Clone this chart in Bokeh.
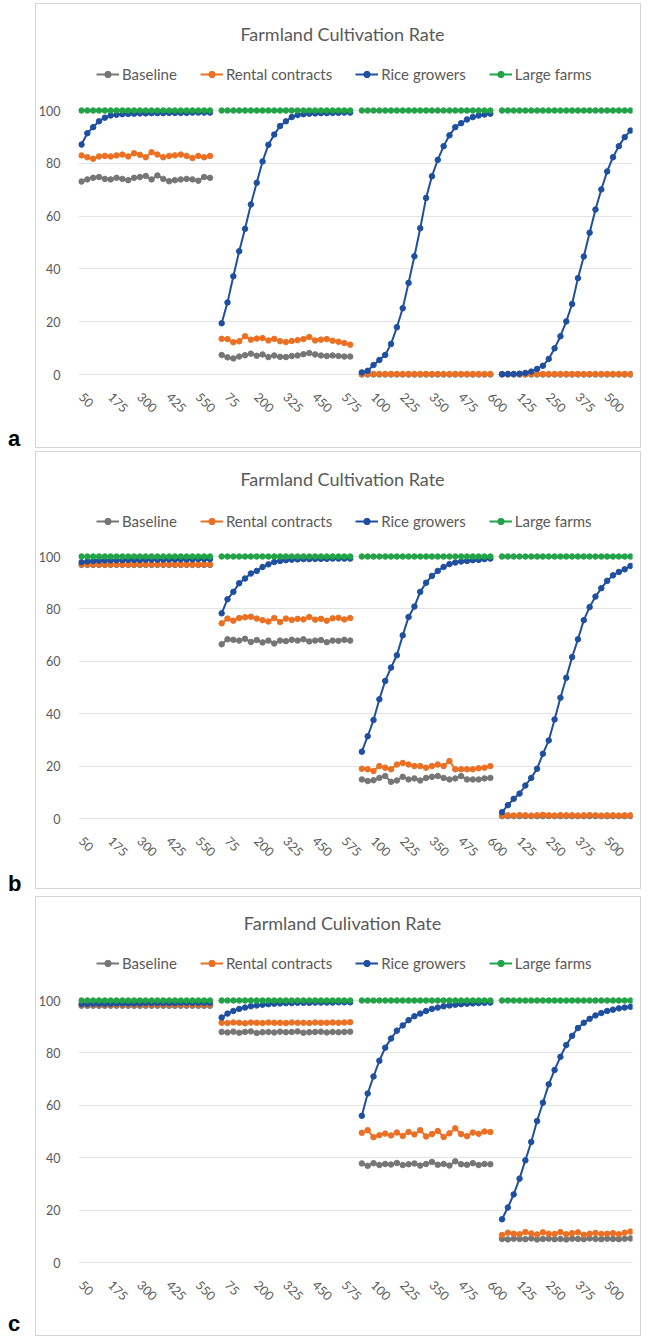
import math
from bokeh.plotting import figure
from bokeh.layouts import column, row
from bokeh.models import (Range1d, FixedTicker, Legend, LegendItem, Label,
                          Div)
from bokeh.embed import file_html
from bokeh.resources import INLINE

# Category axis: farm-size steps 25..600, repeated for four scenarios.
# The first step (25) of every scenario carries no value.
steps = [25, 50, 75, 100, 125, 150, 175, 200, 225, 250, 275, 300,
         325, 350, 375, 400, 425, 450, 475, 500, 525, 550, 575, 600]
n_scenarios = 4
series_names = ["Baseline", "Rental contracts", "Rice growers", "Large farms"]
y_ticks = [0, 20, 40, 60, 80, 100]

# ---------------- panel a ----------------
a_baseline = [
    [73.1, 73.9, 74.5, 74.8, 74.1, 73.9, 74.5, 74.1, 73.6, 74.5, 74.8, 75.2, 73.9, 75.4, 74.1, 73.2, 73.6, 73.9, 74.1, 73.9, 73.4, 74.8, 74.5],
    [7.4, 6.5, 6.1, 6.8, 7.3, 7.9, 7.1, 7.6, 6.6, 7.2, 6.7, 6.6, 7.0, 7.2, 7.7, 8.1, 7.6, 7.2, 7.0, 7.2, 7.0, 6.8, 6.8],
    [0.0, 0.0, 0.0, 0.0, 0.0, 0.0, 0.0, 0.0, 0.0, 0.0, 0.0, 0.0, 0.0, 0.0, 0.0, 0.0, 0.0, 0.0, 0.0, 0.0, 0.0, 0.0, 0.0],
    [0.0, 0.0, 0.0, 0.0, 0.0, 0.0, 0.0, 0.0, 0.0, 0.0, 0.0, 0.0, 0.0, 0.0, 0.0, 0.0, 0.0, 0.0, 0.0, 0.0, 0.0, 0.0, 0.0],
]
a_rental = [
    [83.0, 82.3, 81.7, 82.6, 82.8, 82.6, 83.0, 83.3, 82.6, 83.8, 83.2, 82.3, 84.2, 83.3, 82.3, 82.8, 83.0, 83.3, 82.8, 82.0, 82.8, 82.3, 82.8],
    [13.5, 13.4, 12.2, 12.6, 14.5, 13.2, 13.6, 13.8, 12.9, 13.5, 12.6, 12.3, 12.7, 13.0, 13.4, 14.2, 12.9, 13.2, 13.4, 12.8, 12.4, 11.9, 11.3],
    [0.2, 0.2, 0.2, 0.2, 0.2, 0.2, 0.2, 0.2, 0.2, 0.2, 0.2, 0.2, 0.2, 0.2, 0.2, 0.2, 0.2, 0.2, 0.2, 0.2, 0.2, 0.2, 0.2],
    [0.2, 0.2, 0.2, 0.2, 0.2, 0.2, 0.2, 0.2, 0.2, 0.2, 0.2, 0.2, 0.2, 0.2, 0.2, 0.2, 0.2, 0.2, 0.2, 0.2, 0.2, 0.2, 0.2],
]
a_rice = [
    [87.1, 91.4, 93.7, 95.9, 97.3, 98.1, 98.4, 98.6, 98.7, 98.8, 98.9, 98.9, 99.0, 99.0, 99.0, 99.1, 99.1, 99.1, 99.1, 99.2, 99.2, 99.2, 99.2],
    [19.4, 27.3, 37.2, 46.7, 55.2, 64.4, 72.6, 80.7, 87.0, 90.9, 94.1, 95.9, 97.5, 98.3, 98.6, 98.8, 98.9, 99.0, 99.0, 99.1, 99.1, 99.2, 99.2],
    [0.8, 1.4, 3.6, 5.5, 7.4, 11.6, 17.9, 25.1, 34.7, 44.8, 55.4, 66.9, 75.1, 81.3, 86.5, 90.6, 93.7, 95.2, 96.6, 97.5, 98.1, 98.5, 98.8],
    [0.1, 0.2, 0.2, 0.3, 0.6, 1.1, 2.1, 3.3, 5.9, 9.9, 14.5, 20.1, 26.7, 36.5, 44.7, 53.7, 62.5, 70.1, 76.9, 82.3, 86.5, 89.9, 92.4],
]
a_large = [
    [100, 100, 100, 100, 100, 100, 100, 100, 100, 100, 100, 100, 100, 100, 100, 100, 100, 100, 100, 100, 100, 100, 100],
    [100, 100, 100, 100, 100, 100, 100, 100, 100, 100, 100, 100, 100, 100, 100, 100, 100, 100, 100, 100, 100, 100, 100],
    [100, 100, 100, 100, 100, 100, 100, 100, 100, 100, 100, 100, 100, 100, 100, 100, 100, 100, 100, 100, 100, 100, 100],
    [100, 100, 100, 100, 100, 100, 100, 100, 100, 100, 100, 100, 100, 100, 100, 100, 100, 100, 100, 100, 100, 100, 100],
]

# ---------------- panel b ----------------
b_baseline = [
    [96.8, 96.8, 96.8, 96.8, 96.8, 96.8, 96.8, 96.8, 96.8, 96.8, 96.8, 96.8, 96.8, 96.8, 96.8, 96.8, 96.8, 96.8, 96.8, 96.8, 96.8, 96.8, 96.8],
    [66.5, 68.4, 68.2, 67.9, 68.6, 67.4, 68.1, 67.2, 67.9, 66.8, 67.9, 67.7, 68.2, 67.9, 68.4, 67.6, 67.9, 68.1, 67.3, 67.9, 67.8, 68.2, 67.9],
    [14.9, 14.3, 14.6, 15.5, 16.2, 14.0, 14.5, 15.9, 14.9, 15.3, 14.5, 15.5, 15.9, 16.2, 15.5, 14.9, 15.3, 16.2, 14.9, 14.9, 14.9, 15.3, 15.5],
    [0.9, 0.9, 0.9, 0.9, 0.9, 0.9, 0.9, 0.9, 0.9, 0.9, 0.9, 0.9, 0.9, 0.9, 0.9, 0.9, 0.9, 0.9, 0.9, 0.9, 0.9, 0.9, 0.9],
]
b_rental = [
    [97.0, 97.0, 97.0, 97.0, 97.0, 97.0, 97.0, 97.0, 97.0, 97.0, 97.0, 97.0, 97.0, 97.0, 97.0, 97.0, 97.0, 97.0, 97.0, 97.0, 97.0, 97.0, 97.0],
    [74.5, 76.3, 75.5, 76.5, 76.8, 77.0, 76.3, 75.7, 75.2, 76.5, 75.0, 76.3, 75.8, 76.2, 76.0, 76.9, 75.9, 76.2, 75.5, 76.4, 76.6, 76.0, 76.5],
    [19.0, 18.8, 18.1, 20.0, 19.4, 18.8, 20.6, 21.2, 20.6, 20.0, 20.0, 19.4, 20.0, 20.6, 20.0, 21.9, 18.8, 18.8, 18.8, 18.8, 19.2, 19.4, 20.0],
    [1.1, 1.2, 1.1, 1.3, 1.2, 1.1, 1.2, 1.4, 1.2, 1.1, 1.3, 1.2, 1.2, 1.1, 1.2, 1.3, 1.2, 1.1, 1.2, 1.2, 1.1, 1.2, 1.2],
]
b_rice = [
    [97.8, 98.1, 98.3, 98.4, 98.5, 98.5, 98.6, 98.6, 98.7, 98.7, 98.7, 98.8, 98.8, 98.8, 98.8, 98.9, 98.9, 98.9, 98.9, 98.9, 99.0, 99.0, 99.0],
    [78.3, 83.7, 86.5, 89.8, 91.6, 93.5, 94.5, 96.0, 97.0, 97.9, 98.3, 98.6, 98.8, 98.9, 99.0, 99.0, 99.1, 99.1, 99.1, 99.2, 99.2, 99.2, 99.2],
    [25.5, 31.4, 37.6, 45.5, 52.5, 57.6, 62.3, 69.9, 76.9, 80.9, 86.5, 90.0, 92.6, 94.5, 96.0, 97.1, 97.7, 98.1, 98.3, 98.6, 98.7, 99.0, 99.2],
    [2.4, 5.1, 7.5, 9.5, 12.6, 15.5, 19.0, 24.7, 29.8, 37.8, 46.1, 53.7, 61.6, 68.4, 75.7, 80.7, 84.7, 87.9, 90.7, 92.8, 94.1, 95.1, 96.4],
]
b_large = a_large

# ---------------- panel c ----------------
c_baseline = [
    [98.0, 98.0, 98.0, 98.0, 98.0, 98.0, 98.0, 98.0, 98.0, 98.0, 98.0, 98.0, 98.0, 98.0, 98.0, 98.0, 98.0, 98.0, 98.0, 98.0, 98.0, 98.0, 98.0],
    [88.0, 87.8, 88.1, 87.7, 88.0, 88.2, 87.6, 87.9, 88.0, 87.8, 88.1, 87.9, 88.0, 88.2, 87.7, 87.9, 88.0, 88.1, 87.8, 88.0, 87.9, 88.0, 88.1],
    [37.8, 36.9, 37.9, 37.2, 37.6, 37.4, 38.0, 37.2, 37.5, 37.8, 37.0, 37.6, 38.4, 37.3, 37.6, 37.0, 38.6, 37.5, 37.3, 37.9, 37.2, 37.6, 37.5],
    [9.0, 8.8, 9.1, 9.0, 8.9, 9.2, 8.8, 9.0, 9.1, 8.9, 9.0, 8.8, 9.1, 9.0, 8.9, 9.2, 9.0, 8.9, 9.1, 9.0, 8.9, 9.1, 9.2],
]
c_rental = [
    [98.5, 98.5, 98.5, 98.5, 98.5, 98.5, 98.5, 98.5, 98.5, 98.5, 98.5, 98.5, 98.5, 98.5, 98.5, 98.5, 98.5, 98.5, 98.5, 98.5, 98.5, 98.5, 98.5],
    [91.5, 91.4, 91.6, 91.5, 91.3, 91.6, 91.5, 91.4, 91.6, 91.5, 91.5, 91.4, 91.6, 91.5, 91.5, 91.4, 91.6, 91.5, 91.5, 91.6, 91.5, 91.6, 91.7],
    [49.5, 50.5, 47.8, 48.6, 49.2, 48.5, 49.6, 48.3, 49.8, 48.9, 50.5, 48.1, 49.0, 50.2, 47.9, 49.3, 51.2, 49.0, 48.2, 49.6, 49.1, 50.0, 49.8],
    [10.5, 11.4, 11.0, 10.8, 11.6, 11.1, 10.7, 11.5, 11.0, 10.9, 11.6, 10.8, 11.2, 11.5, 10.6, 11.0, 11.3, 10.9, 11.0, 11.2, 10.8, 11.4, 11.8],
]
c_rice = [
    [98.7, 98.7, 98.8, 98.8, 98.8, 98.8, 98.9, 98.9, 98.9, 98.9, 98.9, 99.0, 99.0, 99.0, 99.0, 99.0, 99.0, 99.1, 99.1, 99.1, 99.1, 99.1, 99.1],
    [93.5, 95.0, 96.0, 96.8, 97.3, 97.8, 98.1, 98.4, 98.6, 98.8, 98.9, 99.0, 99.0, 99.1, 99.1, 99.1, 99.2, 99.2, 99.2, 99.2, 99.3, 99.3, 99.3],
    [56.0, 64.5, 71.0, 77.0, 82.0, 85.5, 88.5, 90.5, 92.5, 94.0, 95.0, 96.0, 96.8, 97.3, 97.8, 98.1, 98.4, 98.6, 98.8, 98.9, 99.0, 99.1, 99.2],
    [16.5, 21.0, 26.0, 32.0, 39.0, 46.0, 54.0, 61.0, 68.0, 73.5, 78.5, 83.0, 86.5, 89.5, 91.5, 93.0, 94.3, 95.2, 96.0, 96.5, 97.0, 97.3, 97.6],
]
c_large = a_large

colors = ["#767676", "#EC7023", "#1E4FA0", "#22A348"]
TEXT = "#595959"
FONT = "Lato"
BOX = "#d4d4d4"

LETTER_W = 35               # strip on the left that holds the panel letter
FIG_W = 649 - LETTER_W
FRAME_LEFT = 41             # plot area edges inside each figure
FRAME_RIGHT = 597

n_cat = len(steps) * n_scenarios
x_idx = list(range(n_cat))
tick_idx = list(range(1, n_cat, 5))
tick_labels = {i: str(steps[i % len(steps)]) for i in tick_idx}


def flatten(segments):
    """Place the four scenario segments on the shared category axis."""
    out = []
    for seg in segments:
        out.append(float("nan"))
        out.extend(seg)
    return out


def box_css(top, bottom, left=0, right=605):
    """A thin light-grey frame round the whole panel, drawn as CSS lines."""
    g = f"linear-gradient({BOX},{BOX})"
    w = right - left + 1
    h = bottom - top + 1
    return {
        "background-color": "white",
        "background-image": ", ".join([g] * 4),
        "background-repeat": "no-repeat",
        "background-size": f"{w}px 1px, {w}px 1px, 1px {h}px, 1px {h}px",
        "background-position": (f"{left}px {top}px, {left}px {bottom}px, "
                                f"{left}px {top}px, {right}px {top}px"),
    }


def panel(series, title, letter, height, frame_top, frame_bottom, px100, px0,
          box_top, box_bottom, title_y, legend_y, letter_top):
    # value range so that 100 and 0 land on rows px100 / px0 of the figure;
    # the space above 100 holds the title and the legend
    k = (px0 - px100) / 100.0
    y_max = 100 + (px100 - frame_top) / k
    y_min = -(frame_bottom - px0) / k
    p = figure(width=FIG_W, height=height, output_backend="svg",
               toolbar_location=None,
               x_range=Range1d(0.488, 95.34), y_range=Range1d(y_min, y_max),
               min_border_left=FRAME_LEFT, min_border_right=FIG_W - FRAME_RIGHT,
               min_border_top=frame_top, min_border_bottom=height - frame_bottom)
    p.styles = box_css(box_top, box_bottom)
    p.outline_line_color = None
    p.background_fill_color = "white"
    p.border_fill_alpha = 0
    p.xgrid.visible = False
    p.ygrid.ticker = FixedTicker(ticks=y_ticks)
    p.ygrid.grid_line_color = "#e4e4e4"
    p.ygrid.grid_line_width = 1

    p.yaxis.ticker = FixedTicker(ticks=y_ticks)
    p.yaxis.axis_line_color = None
    p.yaxis.major_tick_line_color = None
    p.yaxis.minor_tick_line_color = None
    p.yaxis.major_label_standoff = 12
    p.yaxis.major_label_text_font = FONT
    p.yaxis.major_label_text_font_size = "12.5px"
    p.yaxis.major_label_text_color = TEXT

    p.xaxis.ticker = FixedTicker(ticks=tick_idx)
    p.xaxis.major_label_overrides = tick_labels
    p.xaxis.axis_line_color = None
    p.xaxis.major_tick_line_color = None
    p.xaxis.minor_tick_line_color = None
    p.xaxis.major_label_orientation = -math.pi / 4
    p.xaxis.major_label_standoff = 4
    p.xaxis.major_label_text_font = FONT
    p.xaxis.major_label_text_font_size = "12.5px"
    p.xaxis.major_label_text_color = TEXT

    items = []
    for name, segs, col in zip(series_names, series, colors):
        y = flatten(segs)
        lr = p.line(x_idx, y, line_color=col, line_width=2)
        sr = p.scatter(x_idx, y, size=5.5, fill_color=col, line_color=col,
                       line_width=1)
        items.append(LegendItem(label=name, renderers=[lr, sr]))

    legend_h = 18
    legend = Legend(items=items, orientation="horizontal",
                    location=(18, frame_bottom - legend_y - legend_h / 2),
                    border_line_color=None, background_fill_alpha=0,
                    glyph_width=23, glyph_height=16, label_standoff=3,
                    spacing=23, padding=0, margin=0,
                    label_text_font=FONT, label_text_font_size="15px",
                    label_text_color=TEXT, label_height=16)
    p.add_layout(legend)

    p.add_layout(Label(x=340 - 35 - FRAME_LEFT, y=frame_bottom - title_y,
                       x_units="screen", y_units="screen", text=title,
                       text_align="center", text_baseline="middle",
                       text_font=FONT, text_font_size="18px",
                       text_color=TEXT))

    tag = Div(text=(f'<div style="padding:{letter_top}px 0 0 8px;'
                    "font:bold 22px 'Liberation Sans',Arial,sans-serif;"
                    f'line-height:22px;color:#000">{letter}</div>'),
              width=LETTER_W, height=height, margin=0)
    return row(tag, p, spacing=0)


pa = panel([a_baseline, a_rental, a_rice, a_large],
           "Farmland Cultivation Rate", "a", 450, 5, 384, 110, 374,
           3, 447, 33, 74, 428)
pb = panel([b_baseline, b_rental, b_rice, b_large],
           "Farmland Cultivation Rate", "b", 445, 3, 378, 106, 368,
           1, 438, 28, 71, 423)
pc = panel([c_baseline, c_rental, c_rice, c_large],
           "Farmland Culivation Rate", "c", 443, 3, 377, 105, 367,
           1, 440, 27, 68, 418)

layout = column(pa, pb, pc, spacing=0)
open("out.html", "w").write(file_html(layout, INLINE))
